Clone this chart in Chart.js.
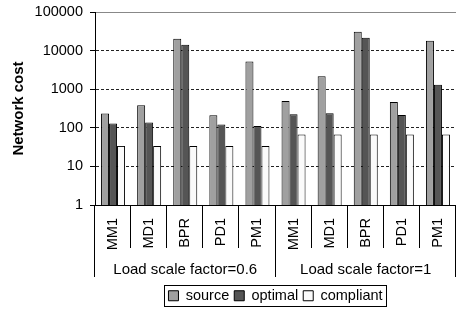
<!DOCTYPE html>
<html>
<head>
<meta charset="utf-8">
<script src="https://cdn.jsdelivr.net/npm/chart.js@4.4.1/dist/chart.umd.min.js"></script>
<style>
  html, body { margin: 0; padding: 0; background: #fff; }
</style>
</head>
<body>
<canvas id="costChart" width="456" height="310"></canvas>
<script>
// categories and groups along the x axis
const categories = ['MM1', 'MD1', 'BPR', 'PD1', 'PM1', 'MM1', 'MD1', 'BPR', 'PD1', 'PM1'];
const groupLabels = ['Load scale factor=0.6', 'Load scale factor=1'];
const groupSize = 5;

// series values
const sourceCost = [234, 384, 20300, 212, 5250, 495, 2150, 30800, 467, 18100];
const optimalCost = [129, 137, 14200, 122, 112, 225, 238, 21500, 215, 1310];
const compliantCost = [34, 34, 34, 34, 34, 67, 67, 67, 67, 67];

const yTicks = [1, 10, 100, 1000, 10000, 100000];

const FONT = 'Liberation Sans, Arial, sans-serif';

// draws the two-level category axis (separators + group labels)
const groupAxis = {
    id: 'groupAxis',
    afterDraw(chart) {
        const { ctx, chartArea } = chart;
        const x = chart.scales.x;
        const n = categories.length;
        const step = x.getPixelForValue(1) - x.getPixelForValue(0);
        ctx.save();
        ctx.strokeStyle = '#000';
        ctx.lineWidth = 1;
        for (let i = 0; i <= n; i++) {
            const px = Math.round(x.getPixelForValue(0) - step / 2 + i * step) - 0.5;
            const isGroup = i % groupSize === 0;
            ctx.beginPath();
            ctx.moveTo(px, chartArea.bottom);
            ctx.lineTo(px, chartArea.bottom + (isGroup ? 72 : 43));
            ctx.stroke();
        }
        ctx.fillStyle = '#000';
        ctx.font = '15px ' + FONT;
        ctx.textAlign = 'center';
        ctx.textBaseline = 'alphabetic';
        groupLabels.forEach((label, g) => {
            const cx = x.getPixelForValue(g * groupSize) - step / 2 + step * groupSize / 2;
            ctx.fillText(label, cx, chartArea.bottom + 69);
        });

        // border around the legend
        const boxes = chart.legend.legendHitBoxes;
        if (boxes && boxes.length) {
            const first = boxes[0];
            const last = boxes[boxes.length - 1];
            const l = Math.round(first.left - 4) + 0.5;
            const r = Math.round(last.left + last.width + 3) + 0.5;
            const t = Math.round(first.top - 4) + 0.5;
            const b = Math.round(first.top + first.height + 3) + 0.5;
            ctx.strokeRect(l, t, r - l, b - t);
        }
        ctx.restore();
    }
};

const ctx = document.getElementById('costChart').getContext('2d');

const costChart = new Chart(ctx, {
    type: 'bar',
    data: {
        labels: categories,
        datasets: [
            { label: 'source', data: sourceCost, backgroundColor: '#a0a0a0', borderColor: '#000', borderWidth: 1 },
            { label: 'optimal', data: optimalCost, backgroundColor: '#555555', borderColor: '#000', borderWidth: 1 },
            { label: 'compliant', data: compliantCost, backgroundColor: '#fafafa', borderColor: '#000', borderWidth: 1 }
        ]
    },
    options: {
        responsive: false,
        animation: false,
        categoryPercentage: 0.665,
        barPercentage: 1,
        layout: { padding: { top: 12, right: 0, bottom: -3, left: 0 } },
        plugins: {
            tooltip: { enabled: false },
            legend: {
                position: 'bottom',
                fullSize: false,
                labels: {
                    boxWidth: 10,
                    boxHeight: 10,
                    padding: 5,
                    color: '#000',
                    font: { family: FONT, size: 14.5 }
                }
            }
        },
        scales: {
            x: {
                grid: { display: false, drawTicks: false },
                border: { display: true, color: '#000', width: 1 },
                ticks: {
                    minRotation: 90,
                    maxRotation: 90,
                    padding: 13,
                    color: '#000',
                    font: { family: FONT, size: 14.5 }
                },
                afterFit(scale) {
                    scale.height = 78.5;
                    scale.paddingLeft = 0;
                    scale.paddingRight = 0;
                }
            },
            y: {
                type: 'logarithmic',
                min: 1,
                max: 100000,
                afterBuildTicks(scale) {
                    scale.ticks = yTicks.map(v => ({ value: v }));
                },
                afterFit(scale) {
                    scale.width = 95;
                    scale.paddingTop = 0;
                    scale.paddingBottom = 0;
                },
                grid: {
                    color(c) {
                        if (!c.tick) return '#000';
                        if (c.tick.value === 100000) return '#888';
                        if (c.tick.value === 1) return 'rgba(0,0,0,0)';
                        return '#222';
                    },
                    lineWidth: 1,
                    tickLength: 5,
                    tickColor: '#000',
                    tickBorderDash: []
                },
                border: {
                    display: true,
                    color: '#000',
                    width: 1,
                    dash(c) {
                        if (c.tick && c.tick.value !== 100000) return [3, 2];
                        return [];
                    }
                },
                ticks: {
                    padding: 7,
                    color: '#000',
                    font: { family: FONT, size: 14.5 },
                    callback: (v) => String(v)
                },
                title: {
                    display: true,
                    text: 'Network cost',
                    color: '#000',
                    padding: { top: 10, bottom: 0 },
                    font: { family: FONT, size: 15, weight: 'bold' }
                }
            }
        }
    },
    plugins: [groupAxis]
});
</script>
</body>
</html>
